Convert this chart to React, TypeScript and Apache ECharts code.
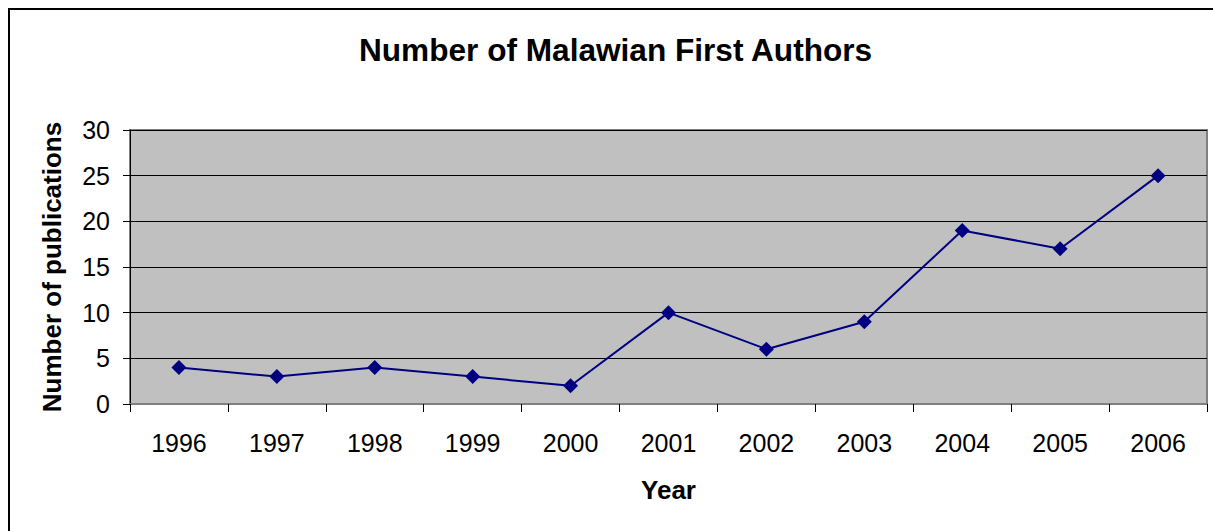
import React, { useEffect, useRef } from "react";
import * as echarts from "echarts";

const years = ["1996", "1997", "1998", "1999", "2000", "2001", "2002", "2003", "2004", "2005", "2006"];
const publications = [4, 3, 4, 3, 2, 10, 6, 9, 19, 17, 25];
const titleText = "Number of Malawian First Authors";
const yName = "Number of publications";
const xName = "Year";

export default function App() {
  const ref = useRef<HTMLDivElement>(null);
  useEffect(() => {
    document.body.style.margin = "0";
    const chart = echarts.init(ref.current!, null, { renderer: "svg" });
    const font = "Arial, 'Liberation Sans', sans-serif";
    chart.setOption({
      animation: false,
      backgroundColor: "#ffffff",
      title: {
        text: titleText,
        left: 354,
        top: 29,
        textStyle: { fontFamily: font, fontSize: 31.6, fontWeight: "bold", color: "#000" },
      },
      graphic: [
        {
          type: "rect",
          shape: { x: 9, y: 9, width: 1300, height: 600 },
          style: { fill: "none", stroke: "#000", lineWidth: 2 },
          silent: true,
        },
      ],
      grid: {
        left: 130,
        top: 130,
        right: 6,
        bottom: 127,
        show: true,
        backgroundColor: "#c0c0c0",
        borderColor: "#808080",
        borderWidth: 2,
      },
      xAxis: {
        type: "category",
        data: years,
        boundaryGap: true,
        name: xName,
        nameLocation: "middle",
        nameGap: 73,
        nameTextStyle: { fontFamily: font, fontSize: 26, fontWeight: "bold", color: "#000" },
        axisLine: { lineStyle: { color: "#808080", width: 2 } },
        axisTick: { show: true, length: 8, alignWithLabel: false, lineStyle: { color: "#000", width: 1 } },
        axisLabel: { fontFamily: font, fontSize: 25, color: "#000", margin: 26, interval: 0 },
        splitLine: { show: false },
      },
      yAxis: {
        type: "value",
        min: 0,
        max: 30,
        interval: 5,
        name: yName,
        nameLocation: "middle",
        nameGap: 65,
        nameRotate: 90,
        nameTextStyle: { fontFamily: font, fontSize: 26, fontWeight: "bold", color: "#000" },
        axisLine: { show: true, lineStyle: { color: "#000", width: 1 } },
        axisTick: { show: true, length: 7, lineStyle: { color: "#000", width: 1 } },
        axisLabel: { fontFamily: font, fontSize: 25, color: "#000", margin: 20 },
        splitLine: { show: true, lineStyle: { color: "#000", width: 1 } },
      },
      series: [
        {
          type: "line",
          data: publications,
          symbol: "diamond",
          symbolSize: 15,
          lineStyle: { color: "#000080", width: 2 },
          itemStyle: { color: "#000080" },
        },
      ],
    });
    return () => chart.dispose();
  }, []);
  return <div ref={ref} style={{ width: 1213, height: 531 }} />;
}
